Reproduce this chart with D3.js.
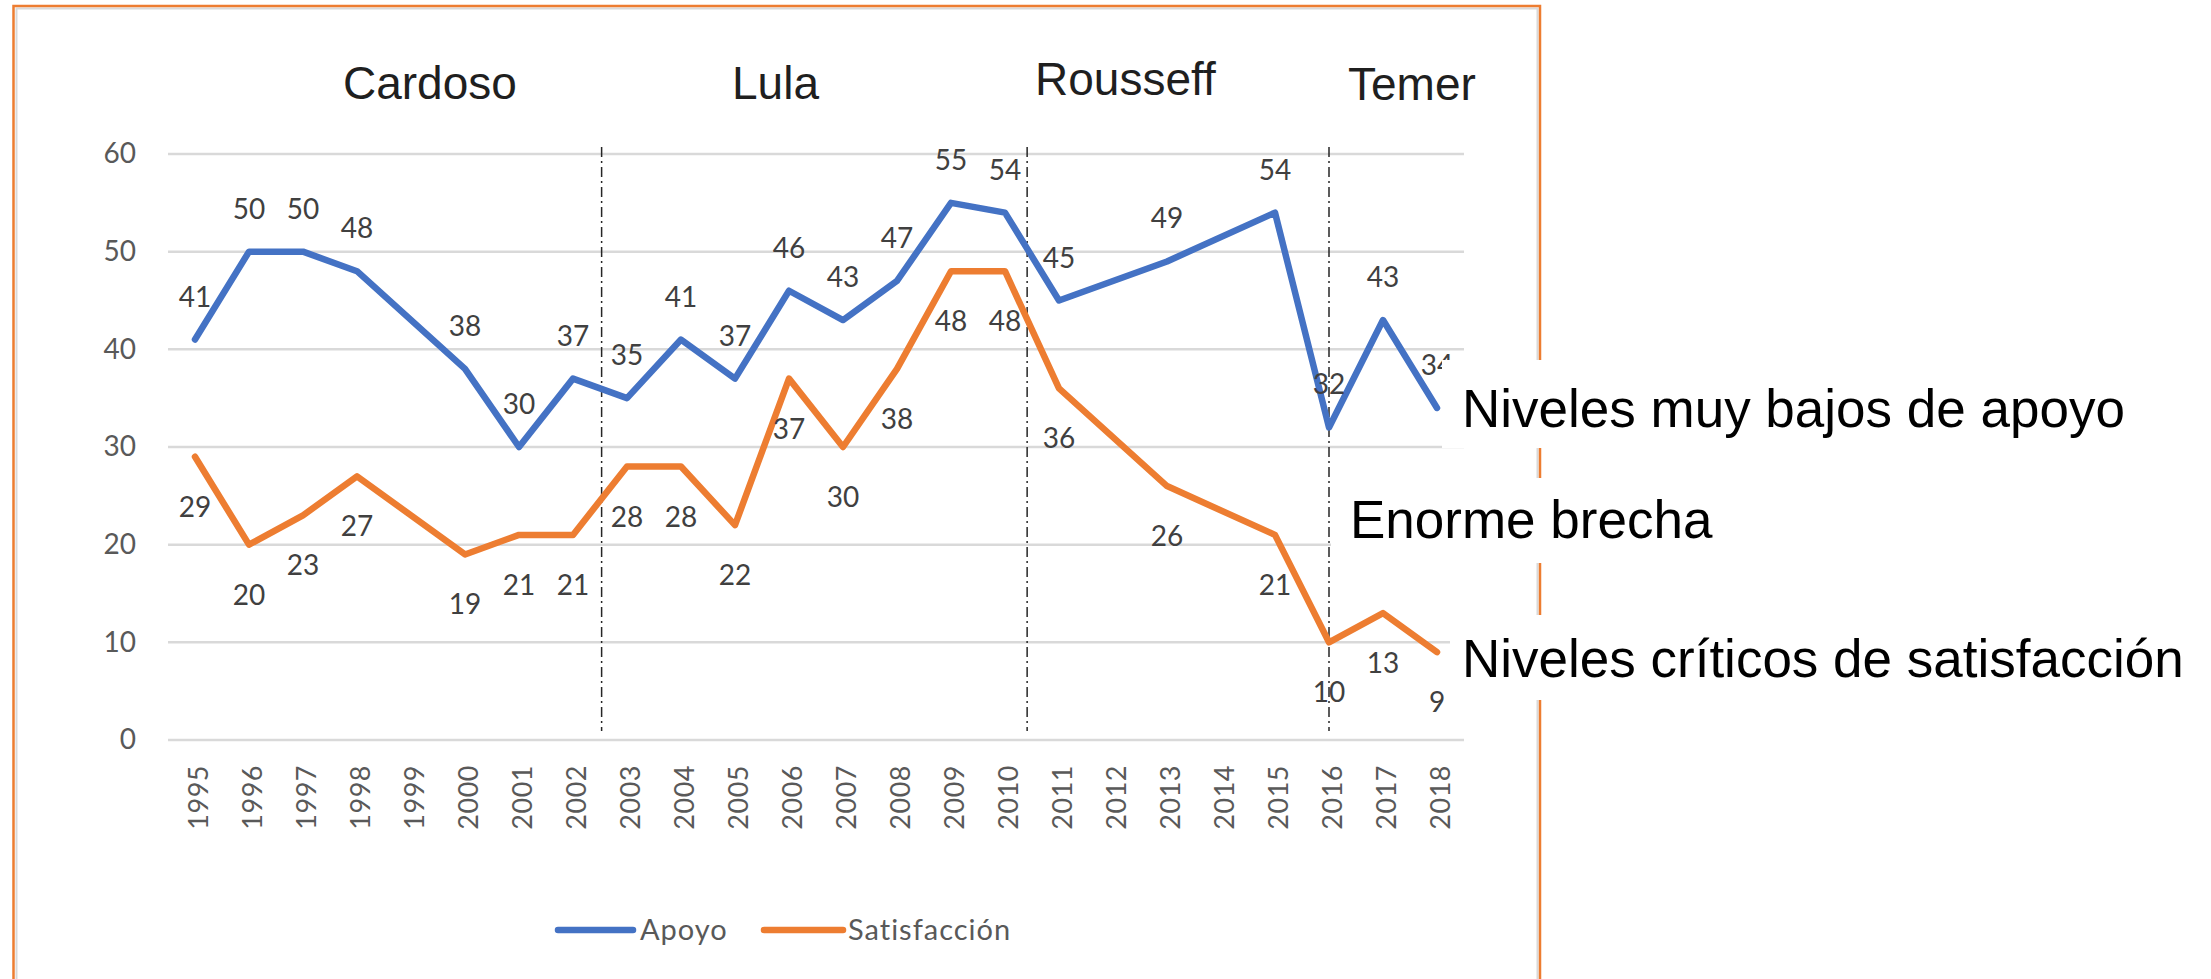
<!DOCTYPE html>
<html>
<head>
<meta charset="utf-8">
<script src="https://cdn.jsdelivr.net/npm/d3@7"></script>
<style>
  html, body { margin: 0; padding: 0; background: #ffffff; }
  svg { display: block; }
</style>
</head>
<body>
<script>
// ---------- DATA ----------
const years = ["1995","1996","1997","1998","1999","2000","2001","2002","2003","2004","2005","2006",
               "2007","2008","2009","2010","2011","2012","2013","2014","2015","2016","2017","2018"];
const apoyo = [41,50,50,48,null,38,30,37,35,41,37,46,43,47,55,54,45,null,49,null,54,32,43,34];
const satisfaccion = [29,20,23,27,null,19,21,21,28,28,22,37,30,38,48,48,36,null,26,null,21,10,13,9];
const yTicks = [0,10,20,30,40,50,60];
const seriesNames = ["Apoyo","Satisfacción"];
const presidents = ["Cardoso","Lula","Rousseff","Temer"];
const termBreaks = [2002.53, 2010.41, 2016];
const notes = ["Niveles muy bajos de apoyo","Enorme brecha","Niveles críticos de satisfacción"];

// ---------- LAYOUT ----------
const W = 2211, H = 979;
const colors = ["#4472C4", "#ED7D31"];
const svg = d3.select("body").append("svg").attr("width", W).attr("height", H);
svg.append("rect").attr("width", W).attr("height", H).attr("fill", "#ffffff");

// frames
svg.append("rect").attr("x", 16.5).attr("y", 8.5).attr("width", 1521).attr("height", 1200)
  .attr("fill", "none").attr("stroke", "#d9d9d9").attr("stroke-width", 2);
svg.append("rect").attr("x", 13.5).attr("y", 6).attr("width", 1526.5).attr("height", 1200)
  .attr("fill", "none").attr("stroke", "#ED7D31").attr("stroke-width", 2.5);

const x = d3.scalePoint().domain(years).range([168, 1464]).padding(0.5);
const y = d3.scaleLinear().domain([0, 60]).range([740, 154]);
const step = x.step();
const xNum = v => x(years[0]) + (v - (+years[0])) * step;
const FONT = "Lato, 'Open Sans', sans-serif";

// gridlines
svg.append("g").selectAll("line").data(yTicks).join("line")
  .attr("x1", 168).attr("x2", 1464)
  .attr("y1", d => y(d)).attr("y2", d => y(d))
  .attr("stroke", "#d9d9d9").attr("stroke-width", 2.5);

// y axis labels
const yAxis = svg.append("g").attr("transform", "translate(136,0)")
  .call(d3.axisLeft(y).tickValues(yTicks).tickSize(0).tickPadding(0));
yAxis.select(".domain").remove();
yAxis.selectAll("text").attr("font-family", FONT)
  .attr("font-size", 28).attr("fill", "#595959");

// x axis labels (rotated)
const xAxis = svg.append("g").attr("transform", "translate(0,765)")
  .call(d3.axisBottom(x).tickSize(0).tickPadding(0));
xAxis.select(".domain").remove();
xAxis.selectAll("text")
  .attr("font-family", FONT).attr("font-size", 27).attr("fill", "#595959")
  .attr("letter-spacing", 0.5)
  .attr("text-anchor", "end").attr("dy", "0.35em").attr("y", 0)
  .attr("transform", "translate(3,0) rotate(-90)");

// term separators (dash-dot)
svg.append("g").selectAll("line").data(termBreaks).join("line")
  .attr("x1", d => xNum(d)).attr("x2", d => xNum(d))
  .attr("y1", 147).attr("y2", 731)
  .attr("stroke", "#262626").attr("stroke-width", 1.5)
  .attr("stroke-dasharray", "10,4,2,4");

// series
const series = [apoyo, satisfaccion].map((vals, i) => ({
  name: seriesNames[i], color: colors[i],
  pts: years.map((yr, j) => ({ yr, v: vals[j] })).filter(d => d.v != null)
}));
const line = d3.line().x(d => x(d.yr)).y(d => y(d.v));
svg.append("g").selectAll("path").data(series).join("path")
  .attr("d", d => line(d.pts)).attr("fill", "none")
  .attr("stroke", d => d.color).attr("stroke-width", 6.5)
  .attr("stroke-linejoin", "round").attr("stroke-linecap", "round");

// data labels: Apoyo above, Satisfacción below
const labelOffset = [-33, 60];
series.forEach((s, i) => {
  svg.append("g").selectAll("text").data(s.pts).join("text")
    .attr("x", d => x(d.yr)).attr("y", d => y(d.v) + labelOffset[i])
    .attr("text-anchor", "middle")
    .attr("font-family", FONT).attr("font-size", 28).attr("fill", "#404040")
    .text(d => d.v);
});

// presidents
const presPos = [[343, 99], [732, 99], [1035, 95], [1348, 100]];
svg.append("g").selectAll("text").data(presidents).join("text")
  .attr("x", (d, i) => presPos[i][0]).attr("y", (d, i) => presPos[i][1])
  .attr("font-family", "'Liberation Sans', Arial, sans-serif").attr("font-size", 46)
  .attr("fill", "#1f1f1f").text(d => d);

// legend
const legX = [[558, 633, 640], [764, 843, 848]];
const leg = svg.append("g");
series.forEach((s, i) => {
  leg.append("line").attr("x1", legX[i][0]).attr("x2", legX[i][1]).attr("y1", 930).attr("y2", 930)
    .attr("stroke", s.color).attr("stroke-width", 6.5).attr("stroke-linecap", "round");
  leg.append("text").attr("x", legX[i][2]).attr("y", 940)
    .attr("font-family", FONT).attr("font-size", 29).attr("fill", "#595959")
    .attr("letter-spacing", 1)
    .text(s.name);
});

// annotation boxes
const boxes = [
  { x: 1442, y: 360, w: 700, h: 88, tx: 1462, ty: 427 },
  { x: 1331, y: 478, w: 600, h: 85, tx: 1350, ty: 538 },
  { x: 1450, y: 615, w: 761, h: 85, tx: 1462, ty: 677 }
];
const ann = svg.append("g");
boxes.forEach((b, i) => {
  ann.append("rect").attr("x", b.x).attr("y", b.y).attr("width", b.w).attr("height", b.h).attr("fill", "#ffffff");
  ann.append("text").attr("x", b.tx).attr("y", b.ty)
    .attr("font-family", "'Liberation Sans', Arial, sans-serif").attr("font-size", 53)
    .attr("fill", "#000000").text(notes[i]);
});
</script>
</body>
</html>
